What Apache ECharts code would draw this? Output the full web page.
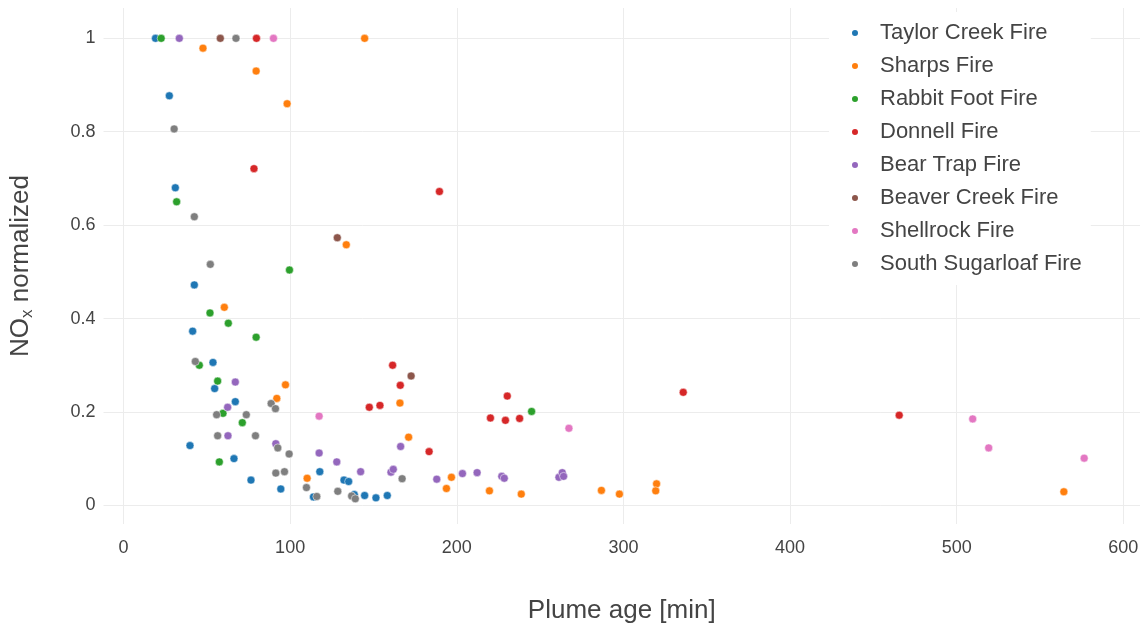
<!DOCTYPE html>
<html>
<head>
<meta charset="utf-8">
<title>NOx normalized vs plume age</title>
<script src="https://cdn.jsdelivr.net/npm/echarts@6/dist/echarts.min.js"></script>
<style>
  html, body { margin: 0; padding: 0; background: #fff; }
  #chart { width: 1148px; height: 629px; }
</style>
</head>
<body>
<div id="chart"></div>
<script>
// Fire names, in legend order
const fires = [
  'Taylor Creek Fire', 'Sharps Fire', 'Rabbit Foot Fire', 'Donnell Fire',
  'Bear Trap Fire', 'Beaver Creek Fire', 'Shellrock Fire', 'South Sugarloaf Fire'
];

// Each point: [plume age in minutes, normalized NOx]
const taylorCreek = [
  [19.2, 1.0], [27.5, 0.877], [31.1, 0.680], [42.5, 0.472], [41.5, 0.373],
  [53.7, 0.306], [54.7, 0.250], [39.9, 0.128], [67.1, 0.222], [66.3, 0.100],
  [76.5, 0.054], [94.4, 0.035], [117.8, 0.072], [114.0, 0.018], [132.3, 0.054],
  [135.1, 0.051], [138.5, 0.023], [144.7, 0.021], [151.5, 0.016], [158.3, 0.021]
];
const sharps = [
  [47.7, 0.979], [79.6, 0.930], [98.2, 0.860], [144.7, 1.0], [133.7, 0.558],
  [60.5, 0.424], [97.2, 0.258], [92.0, 0.229], [110.2, 0.058], [165.9, 0.219],
  [171.1, 0.146], [196.8, 0.060], [193.8, 0.036], [219.6, 0.031], [238.7, 0.024],
  [286.8, 0.032], [297.6, 0.024], [319.9, 0.046], [319.4, 0.031], [564.3, 0.029]
];
const rabbitFoot = [
  [22.6, 1.0], [31.9, 0.650], [99.6, 0.504], [51.9, 0.412], [62.9, 0.390],
  [79.6, 0.360], [45.5, 0.300], [56.5, 0.266], [59.7, 0.197], [71.3, 0.177],
  [57.5, 0.093], [244.9, 0.201]
];
const donnell = [
  [79.8, 1.0], [78.3, 0.721], [189.6, 0.672], [161.5, 0.300], [147.5, 0.210],
  [153.9, 0.214], [166.1, 0.257], [183.4, 0.115], [230.3, 0.234], [220.2, 0.187],
  [229.2, 0.182], [237.7, 0.186], [335.9, 0.242], [465.5, 0.193]
];
const bearTrap = [
  [33.5, 1.0], [67.1, 0.264], [62.5, 0.210], [62.7, 0.149], [91.4, 0.132],
  [117.4, 0.112], [128.0, 0.093], [142.3, 0.072], [160.5, 0.071], [161.9, 0.077],
  [166.3, 0.126], [188.0, 0.056], [203.4, 0.068], [212.2, 0.070], [227.0, 0.062],
  [228.5, 0.058], [261.3, 0.060], [263.3, 0.070], [264.1, 0.062]
];
const beaverCreek = [
  [58.1, 1.0], [128.3, 0.573], [172.6, 0.277]
];
const shellrock = [
  [90.0, 1.0], [117.4, 0.191], [267.3, 0.165], [509.6, 0.185], [519.2, 0.123],
  [576.5, 0.101]
];
const southSugarloaf = [
  [67.5, 1.0], [30.4, 0.806], [42.5, 0.618], [52.1, 0.516], [43.1, 0.308],
  [55.9, 0.194], [73.7, 0.194], [56.5, 0.149], [79.2, 0.149], [88.6, 0.218],
  [91.2, 0.207], [92.6, 0.123], [99.4, 0.110], [91.4, 0.069], [96.6, 0.072],
  [109.8, 0.038], [116.0, 0.019], [128.6, 0.030], [136.9, 0.020], [139.1, 0.014],
  [167.2, 0.057]
];

// Axis tick values
const xTicks = [0, 100, 200, 300, 400, 500, 600];
const yTicks = [0, 0.2, 0.4, 0.6, 0.8, 1];

const fireData = [taylorCreek, sharps, rabbitFoot, donnell, bearTrap, beaverCreek, shellrock, southSugarloaf];
const palette = ['#1f77b4', '#ff7f0e', '#2ca02c', '#d62728', '#9467bd', '#8c564b', '#e377c2', '#7f7f7f'];

const FONT = '"Liberation Sans", Arial, Helvetica, sans-serif';
const TEXT = '#444';
const GRID = '#ececec';

const chart = echarts.init(document.getElementById('chart'), null, { renderer: 'canvas' });

chart.setOption({
  animation: false,
  backgroundColor: '#fff',
  color: palette,
  textStyle: { fontFamily: FONT, color: TEXT },
  grid: { left: 103, right: 8, top: 8, bottom: 104, containLabel: false },
  xAxis: {
    type: 'value',
    min: -12,
    max: 610,
    name: 'Plume age [min]',
    nameLocation: 'middle',
    nameGap: 74,
    nameTextStyle: { fontSize: 26, color: TEXT, fontFamily: FONT },
    axisLine: { show: false },
    axisTick: { show: false, customValues: xTicks },
    axisLabel: {
      customValues: xTicks,
      fontSize: 18, color: TEXT, fontFamily: FONT, margin: 15
    },
    splitLine: { show: true, lineStyle: { color: GRID, width: 1 } }
  },
  yAxis: {
    type: 'value',
    min: -0.04,
    max: 1.065,
    name: 'NO{sub|x} normalized',
    nameLocation: 'middle',
    nameGap: 68,
    nameTextStyle: {
      fontSize: 26, color: TEXT, fontFamily: FONT,
      rich: { sub: { fontSize: 17, color: TEXT, fontFamily: FONT, verticalAlign: 'bottom', padding: [12, 0, 0, 0] } }
    },
    axisLine: { show: false },
    axisTick: { show: false, customValues: yTicks },
    axisLabel: {
      customValues: yTicks,
      fontSize: 18, color: TEXT, fontFamily: FONT, margin: 8,
      formatter: v => String(+v.toFixed(1))
    },
    splitLine: { show: true, lineStyle: { color: GRID, width: 1 } }
  },
  legend: {
    orient: 'vertical',
    left: 829,
    top: 12,
    backgroundColor: '#fff',
    padding: [10, 9, 10, 21],
    itemGap: 11,
    itemWidth: 8,
    itemHeight: 8,
    icon: 'circle',
    textStyle: { fontSize: 22, color: TEXT, fontFamily: FONT, lineHeight: 22, padding: [0, 0, 0, 16] },
    data: fires
  },
  series: fires.map((name, i) => ({
    name,
    type: 'scatter',
    data: fireData[i],
    symbol: 'circle',
    symbolSize: 8,
    itemStyle: { color: palette[i], opacity: 1, borderColor: '#fff', borderWidth: 0.5 },
    emphasis: { disabled: true }
  }))
});
</script>
</body>
</html>
